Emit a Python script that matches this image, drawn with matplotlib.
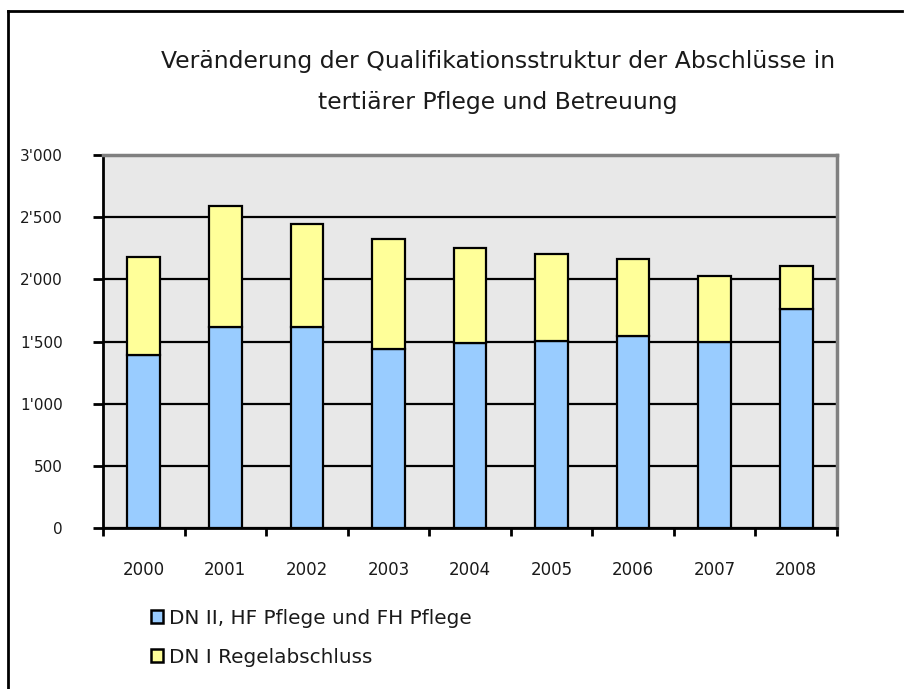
import numpy as np
import matplotlib
matplotlib.use("Agg")
import matplotlib.pyplot as plt
from matplotlib.ticker import FuncFormatter, FixedLocator
from matplotlib.lines import Line2D
from matplotlib.patches import Patch

years = ["2000", "2001", "2002", "2003", "2004", "2005", "2006", "2007", "2008"]
dn2_hf_fh = [1390, 1615, 1615, 1440, 1485, 1505, 1545, 1495, 1765]   # DN II, HF Pflege und FH Pflege
dn1 = [790, 975, 830, 885, 765, 700, 615, 530, 340]                  # DN I Regelabschluss
labels = ["DN II, HF Pflege und FH Pflege", "DN I Regelabschluss"]
title = "Veränderung der Qualifikationsstruktur der Abschlüsse in\ntertiärer Pflege und Betreuung"

blue = "#99CCFF"
yellow = "#FFFF99"

plt.rcParams['font.family'] = ['DejaVu Sans']

fig = plt.figure(figsize=(9.06, 6.89), dpi=100)
ax = fig.add_axes([103/906, 1-528/689, (837-103)/906, (528-155)/689])
ax.set_facecolor("#E8E8E8")

x = np.arange(len(years))
ax.bar(x, dn2_hf_fh, width=0.4, color=blue, edgecolor="black", linewidth=1.6, zorder=3)
ax.bar(x, dn1, width=0.4, bottom=dn2_hf_fh, color=yellow, edgecolor="black", linewidth=1.6, zorder=3)

ax.set_xlim(-0.5, len(years)-0.5)
ax.set_ylim(0, 3000)
ax.set_yticks(np.arange(0, 3001, 500))
ax.yaxis.set_major_formatter(FuncFormatter(lambda v, p: f"{int(v):,}".replace(",", "'")))
ax.yaxis.grid(True, color="black", linewidth=1.6, zorder=1)
ax.set_axisbelow(True)

ax.set_xticks(x)
ax.set_xticklabels(years)
ax.xaxis.set_minor_locator(FixedLocator(np.arange(-0.5, len(years), 1)))
ax.tick_params(axis="x", which="major", length=0, pad=24, labelsize=12, colors="#1a1a1a")
ax.tick_params(axis="x", which="minor", length=6, width=2, direction="out")
ax.tick_params(axis="y", length=7, width=2, direction="out", pad=22, labelsize=11,
               labelcolor="#1a1a1a", color="black")

for s in ["left", "bottom"]:
    ax.spines[s].set_color("black")
    ax.spines[s].set_linewidth(2)
for s in ["top", "right"]:
    ax.spines[s].set_color("#808080")
    ax.spines[s].set_linewidth(2.5)

fig.text(498/906, 1-82/689, title, ha="center", va="center", fontsize=16.9,
         linespacing=1.95, color="#1a1a1a")

handles = [Patch(facecolor=blue, edgecolor="black", linewidth=1.8),
           Patch(facecolor=yellow, edgecolor="black", linewidth=1.8)]
fig.legend(handles, labels, loc="upper left", bbox_to_anchor=(151/906, 1-609/689),
           frameon=False, fontsize=14.4, handlelength=0.62, handleheight=0.62,
           handletextpad=0.3, labelspacing=1.0, borderpad=0, borderaxespad=0,
           labelcolor="#1a1a1a")

# outer border (only left and top edge visible in the reference)
fig.add_artist(Line2D([8/906, 8/906], [0, 1-11/689], transform=fig.transFigure, color="black", linewidth=2))
fig.add_artist(Line2D([8/906, 902/906], [1-11/689, 1-11/689], transform=fig.transFigure, color="black", linewidth=2))

fig.savefig("out.png", dpi=100)
